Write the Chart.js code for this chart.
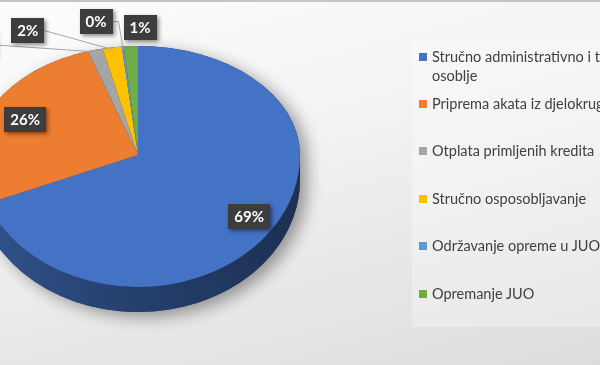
<!DOCTYPE html>
<html>
<head>
<meta charset="utf-8">
<script src="https://cdn.jsdelivr.net/npm/chart.js@4.4.1/dist/chart.umd.min.js"></script>
<style>
  html, body { margin: 0; padding: 0; }
  body {
    width: 600px; height: 365px; overflow: hidden; position: relative;
    background: linear-gradient(165deg, #fdfdfd 0%, #f1f1f1 45%, #dcdcdc 100%);
    font-family: Lato, "Open Sans", sans-serif;
  }
  #topline { position: absolute; left: 0; top: 0; width: 600px; height: 2px; background: #c4c4c4; }
  #chart { position: absolute; left: 0; top: 0; }
  #legend {
    position: absolute; left: 412px; top: 40px; width: 260px; height: 287px;
    background: rgba(255,255,255,0.3);
  }
  .item { position: absolute; left: 7px; width: 250px; color: #404040; font-size: 14.5px; line-height: 19px; }
  .item .sw { position: absolute; left: 0; top: 6px; width: 8px; height: 8px; }
  .item .tx { margin-left: 13px; display: block; width: 240px; }
</style>
</head>
<body>
<div id="topline"></div>
<canvas id="chart" width="600" height="365"></canvas>
<div id="legend"></div>
<script>
// podaci
const kategorije = [
  "Stručno administrativno i tehničko osoblje",
  "Priprema akata iz djelokruga rada",
  "Otplata primljenih kredita",
  "Stručno osposobljavanje",
  "Održavanje opreme u JUO",
  "Opremanje JUO"
];
const udjeli = [69.0, 26.0, 1.5, 1.9, 0.2, 1.4];
const boje = ["#4472C4", "#ED7D31", "#A5A5A5", "#FFC000", "#5B9BD5", "#70AD47"];

// izgled 3D pite (ekranske koordinate)
const pita = { cx: 138, cy: 155, rx: 162, ryGore: 109, ryDolje: 132, dubina: 25 };
// položaj oznaka: unutar (r) ili vani (pomak od ruba + lom linije)
const oznake = [
  { r: 0.83 },
  { r: 0.77 },
  { dx: -117, dy: -7, lom: 0 },
  { dx: -85, dy: -19, lom: 0 },
  { dx: -27, dy: -27, lom: 6 },
  { dx: 9, dy: -21, bezLinije: true }
];

function potamni(hex, f) {
  const n = parseInt(hex.slice(1), 16);
  const r = Math.round(((n >> 16) & 255) * f), g = Math.round(((n >> 8) & 255) * f), b = Math.round((n & 255) * f);
  return `rgb(${r},${g},${b})`;
}

function postaviTransform(ctx, arc, ry) {
  const { x, y, outerRadius } = arc.getProps(["x", "y", "outerRadius"], true);
  ctx.translate(pita.cx, pita.cy);
  ctx.scale(pita.rx / outerRadius, ry / outerRadius);
  ctx.translate(-x, -y);
  return { x, y, R: outerRadius };
}

const pita3d = {
  id: "pita3d",
  beforeDatasetsDraw(chart) {
    const ctx = chart.ctx;
    const arcs = chart.getDatasetMeta(0).data;
    // sjena ispod cijele pite
    ctx.save();
    ctx.shadowColor = "rgba(0,0,0,0.38)";
    ctx.shadowBlur = 16;
    ctx.shadowOffsetX = 7;
    ctx.shadowOffsetY = 5;
    ctx.fillStyle = "#1f3866";
    ctx.beginPath();
    ctx.ellipse(pita.cx, pita.cy, pita.rx, pita.ryGore, 0, Math.PI, 2 * Math.PI);
    ctx.lineTo(pita.cx + pita.rx, pita.cy + pita.dubina);
    ctx.ellipse(pita.cx, pita.cy + pita.dubina, pita.rx, pita.ryDolje, 0, 0, Math.PI);
    ctx.closePath();
    ctx.fill();
    ctx.restore();

    // bočna strana (samo prednja polovica)
    ctx.save();
    ctx.beginPath();
    ctx.rect(-50, pita.cy, 700, 400);
    ctx.clip();
    const g = postaviTransform(ctx, arcs[0], pita.ryDolje);
    const D = pita.dubina * g.R / pita.ryDolje;
    arcs.forEach((arc, i) => {
      const { startAngle, endAngle } = arc.getProps(["startAngle", "endAngle"], true);
      const a0 = Math.max(startAngle, 0), a1 = Math.min(endAngle, Math.PI);
      if (a1 <= a0) return;
      const grad = ctx.createLinearGradient(g.x - g.R, 0, g.x + g.R, 0);
      grad.addColorStop(0, potamni(boje[i], 0.72));
      grad.addColorStop(0.5, potamni(boje[i], 0.55));
      grad.addColorStop(1, potamni(boje[i], 0.42));
      ctx.fillStyle = grad;
      ctx.beginPath();
      ctx.arc(g.x, g.y, g.R, a0, a1);
      ctx.arc(g.x, g.y + D, g.R, a1, a0, true);
      ctx.closePath();
      ctx.fill();
    });
    ctx.restore();

    // donja polovica gornje plohe crta sam Chart.js
    ctx.save();
    ctx.beginPath();
    ctx.rect(-50, pita.cy, 700, 400);
    ctx.clip();
    postaviTransform(ctx, arcs[0], pita.ryDolje);
  },
  afterDatasetsDraw(chart) {
    const ctx = chart.ctx;
    ctx.restore();
    // gornja polovica gornje plohe
    const arcs = chart.getDatasetMeta(0).data;
    ctx.save();
    ctx.beginPath();
    ctx.rect(-50, -50, 700, pita.cy + 50);
    ctx.clip();
    postaviTransform(ctx, arcs[0], pita.ryGore);
    arcs.forEach(a => a.draw(ctx));
    ctx.restore();
  },
  afterDraw(chart) {
    const ctx = chart.ctx;
    const arcs = chart.getDatasetMeta(0).data;
    const ukupno = udjeli.reduce((s, v) => s + v, 0);
    ctx.save();
    ctx.font = "bold 15px Lato, 'Open Sans', sans-serif";
    ctx.textAlign = "center";
    ctx.textBaseline = "middle";
    arcs.forEach((arc, i) => {
      const { startAngle, endAngle } = arc.getProps(["startAngle", "endAngle"], true);
      const fi = (startAngle + endAngle) / 2;
      const c = Math.cos(fi), s = Math.sin(fi);
      const ry = s > 0 ? pita.ryDolje : pita.ryGore;
      const o = oznake[i];
      const tekst = Math.round(udjeli[i] / ukupno * 100) + "%";
      const w = ctx.measureText(tekst).width + 12, h = 25;
      let bx, by;
      if (o.r) {
        bx = pita.cx + c * o.r * pita.rx;
        by = pita.cy + s * o.r * ry;
      } else {
        const ax = pita.cx + c * pita.rx * 0.98, ay = pita.cy + s * ry * 0.98;
        bx = ax + o.dx; by = ay + o.dy;
        if (!o.bezLinije) {
          ctx.strokeStyle = "#a6a6a6";
          ctx.lineWidth = 1;
          ctx.beginPath();
          ctx.moveTo(bx + w / 2, by);
          if (o.lom) ctx.lineTo(bx + w / 2 + o.lom, by);
          ctx.lineTo(ax, ay);
          ctx.stroke();
        }
      }
      ctx.save();
      ctx.shadowColor = "rgba(0,0,0,0.45)";
      ctx.shadowBlur = 4;
      ctx.shadowOffsetX = 2;
      ctx.shadowOffsetY = 2;
      ctx.fillStyle = "#3d3d3d";
      ctx.fillRect(Math.round(bx - w / 2), Math.round(by - h / 2), Math.round(w), h);
      ctx.restore();
      ctx.fillStyle = "#ffffff";
      ctx.fillText(tekst, bx, by + 1);
    });
    ctx.restore();
  }
};

new Chart(document.getElementById("chart"), {
  type: "pie",
  data: {
    labels: kategorije,
    datasets: [{
      data: udjeli,
      backgroundColor: boje,
      borderWidth: 0,
      clip: false
    }]
  },
  options: {
    responsive: false,
    animation: false,
    events: [],
    plugins: { legend: { display: false }, tooltip: { enabled: false } }
  },
  plugins: [pita3d]
});

// legenda
const legenda = document.getElementById("legend");
kategorije.forEach((k, i) => {
  const el = document.createElement("div");
  el.className = "item";
  el.style.top = (16 - 9.5 + i * 47.4) + "px";
  el.innerHTML = `<span class="sw" style="background:${boje[i]}"></span><span class="tx">${k}</span>`;
  legenda.appendChild(el);
});
</script>
</body>
</html>
